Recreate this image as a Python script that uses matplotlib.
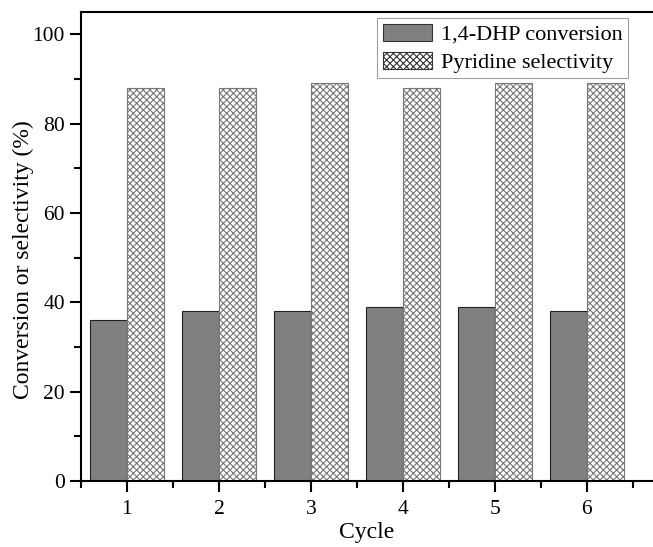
import matplotlib.pyplot as plt
import numpy as np

plt.rcParams['font.family'] = ['Liberation Serif', 'DejaVu Serif']
plt.rcParams['hatch.linewidth'] = 0.8

cycles = [1, 2, 3, 4, 5, 6]
conversion = [36, 38, 38, 39, 39, 38]
selectivity = [88, 88, 89, 88, 89, 89]

x = np.array(cycles)
w = 0.4

fig = plt.figure(figsize=(6.53, 5.47), dpi=100)
ax = fig.add_axes([0.124, 0.121, 0.876, 0.857])

ax.bar(x - w / 2, conversion, w, color='#808080', edgecolor='#222222',
       linewidth=0.8, label='1,4-DHP conversion')
ax.bar(x + w / 2, selectivity, w, color='white', edgecolor='#777777',
       hatch='xxxxx', linewidth=0.8, label='Pyridine selectivity')

ax.set_xlim(0.5, 6.72)
ax.set_ylim(0, 105)
ax.set_xticks(cycles)
ax.set_xticks(np.arange(0.5, 7, 1), minor=True)
ax.set_yticks(range(0, 101, 20))
ax.set_yticks(range(10, 101, 20), minor=True)
ax.tick_params(axis='both', which='major', direction='out', length=8, width=1.5, labelsize=15.5)
ax.tick_params(axis='x', which='major', pad=6)
ax.tick_params(axis='both', which='minor', direction='out', length=5, width=1.5)
for s in ['left', 'bottom', 'top']:
    ax.spines[s].set_linewidth(1.5)
ax.spines['right'].set_visible(False)

ax.set_xlabel('Cycle', fontsize=17, labelpad=2)
ax.set_ylabel('Conversion or selectivity (%)', fontsize=17)
ax.yaxis.set_label_coords(-0.082, 0.471)

leg = ax.legend(loc='upper right', bbox_to_anchor=(0.956, 0.987), fontsize=16,
                frameon=True, fancybox=False, edgecolor='#888888',
                handlelength=2.2, handleheight=0.8, borderpad=0.25,
                labelspacing=0.3, handletextpad=0.4, borderaxespad=0)
leg.get_frame().set_linewidth(0.8)
for h in leg.legend_handles:
    h.set_edgecolor('#333333')

fig.savefig('out.png', dpi=100)
